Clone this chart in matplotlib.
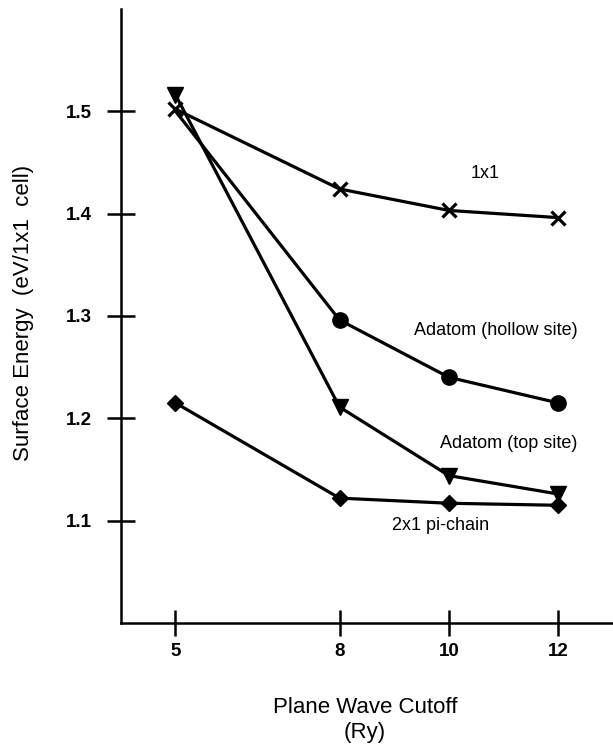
import matplotlib
matplotlib.use("Agg")
import matplotlib.pyplot as plt

plt.rcParams['font.family'] = ['Liberation Sans', 'DejaVu Sans']

cutoff = [5, 8, 10, 12]
e_1x1 = [1.502, 1.424, 1.403, 1.396]
e_hollow = [1.500, 1.296, 1.240, 1.215]
e_top = [1.516, 1.211, 1.144, 1.126]
e_pichain = [1.215, 1.122, 1.117, 1.115]

xticks = [5, 8, 10, 12]
yticks = [1.1, 1.2, 1.3, 1.4, 1.5]
ytick_labels = ["1.1", "1.2", "1.3", "1.4", "1.5"]

fig = plt.figure(figsize=(6.13, 7.5), dpi=100)
ax = fig.add_axes([0.197, 0.1693, 0.803, 0.819])

lw = 2.3
ax.plot(cutoff, e_hollow, color='black', lw=lw, marker='o', ms=11, markevery=[1, 2, 3], zorder=3)
ax.plot(cutoff, e_top, color='black', lw=lw, marker='v', ms=11, zorder=3)
ax.plot(cutoff, e_pichain, color='black', lw=lw, marker='D', ms=8, zorder=3)
ax.plot(cutoff, e_1x1, color='black', lw=lw, marker='x', ms=10, mew=2.3, zorder=4)

fs_ann = 13
ax.text(10.67, 1.439, "1x1", ha='center', va='center', fontsize=fs_ann)
ax.text(10.85, 1.286, "Adatom (hollow site)", ha='center', va='center', fontsize=fs_ann)
ax.text(11.1, 1.1755, "Adatom (top site)", ha='center', va='center', fontsize=fs_ann)
ax.text(9.84, 1.095, "2x1 pi-chain", ha='center', va='center', fontsize=fs_ann)

ax.set_xlim(4, 13)
ax.set_ylim(1.0, 1.6)
ax.set_xticks(xticks)
ax.set_xticklabels([str(v) for v in xticks])
ax.set_yticks(yticks)
ax.set_yticklabels(ytick_labels)

for s in ['top', 'right']:
    ax.spines[s].set_visible(False)
for s in ['left', 'bottom']:
    ax.spines[s].set_linewidth(1.8)

ax.tick_params(axis='x', direction='inout', length=18.7, width=1.8, pad=5.0, labelsize=13.5)
ax.tick_params(axis='y', direction='inout', length=20, width=1.8, pad=10.7, labelsize=13.5)
for lab in ax.get_xticklabels() + ax.get_yticklabels():
    lab.set_fontweight('bold')

ax.set_xlabel("Plane Wave Cutoff\n(Ry)", fontsize=16, linespacing=1.2)
ax.xaxis.set_label_coords(0.496, -0.158)
ax.xaxis.label.set_va('center')
ax.set_ylabel("Surface Energy  (eV/1x1  cell)", fontsize=16)
ax.yaxis.set_label_coords(-0.198, 0.505)
ax.yaxis.label.set_va('center')
ax.yaxis.label.set_ha('center')

fig.savefig("out.png", dpi=100)
